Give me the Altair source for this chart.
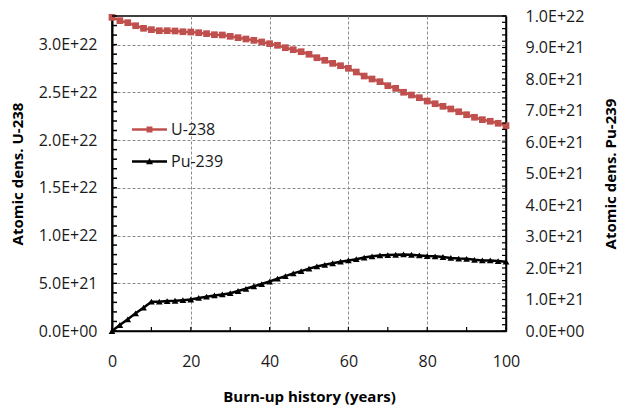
import altair as alt
import pandas as pd

# ---- data ----
years = list(range(0, 101, 2))
u238_e22 = [3.286, 3.251, 3.230, 3.198, 3.171, 3.157, 3.146, 3.146, 3.143, 3.135,
            3.132, 3.125, 3.115, 3.104, 3.101, 3.087, 3.073, 3.059, 3.045, 3.028,
            3.010, 2.993, 2.968, 2.947, 2.926, 2.899, 2.863, 2.836, 2.804, 2.779,
            2.752, 2.713, 2.671, 2.640, 2.612, 2.570, 2.542, 2.501, 2.472, 2.444,
            2.409, 2.381, 2.354, 2.326, 2.297, 2.266, 2.239, 2.214, 2.197, 2.176,
            2.151]
pu239_e21 = [0.00, 0.19, 0.37, 0.56, 0.74, 0.93, 0.93, 0.95, 0.96, 0.98,
             1.00, 1.05, 1.09, 1.13, 1.16, 1.20, 1.27, 1.34, 1.42, 1.49,
             1.57, 1.66, 1.74, 1.83, 1.90, 1.98, 2.05, 2.10, 2.15, 2.20,
             2.24, 2.28, 2.33, 2.37, 2.40, 2.41, 2.42, 2.43, 2.42, 2.40,
             2.38, 2.37, 2.35, 2.32, 2.30, 2.29, 2.26, 2.24, 2.24, 2.22,
             2.20]
series_names = ["U-238", "Pu-239"]
series_colors = ["#C0504D", "#000000"]

left_major = [i * 5e21 for i in range(7)]
left_minor = [i * 1e21 for i in range(34)]
right_major = [i * 1e21 for i in range(11)]
right_minor = [i * 2e20 for i in range(51)]
x_major = [0, 20, 40, 60, 80, 100]
x_minor = list(range(0, 101, 10))

df = pd.DataFrame({"year": years,
                   "u": [v * 1e22 for v in u238_e22],
                   "pu": [v * 1e21 for v in pu239_e21]})

W, H = 394, 315
FONT = "Open Sans"
LABEL_COLOR = "#1a1a1a"
LSIZE = 16
TSIZE = 15

x_scale = alt.Scale(domain=[0, 100], nice=False, zero=False)
left_scale = alt.Scale(domain=[0, 3.3e22], nice=False)
right_scale = alt.Scale(domain=[0, 1e22], nice=False)

label_expr = "datum.value == 0 ? '0.0E+00' : replace(format(datum.value, '.1e'), 'e', 'E')"

x_axis = alt.Axis(values=x_major, title="Burn-up history (years)", grid=True,
                  gridDash=[3, 2], gridColor="#8a8a8a", gridWidth=1,
                  ticks=False, tickSize=0, labelPadding=30, labelBaseline="middle",
                  labelFlush=False, labelOverlap=False,
                  labelFont=FONT, labelFontSize=LSIZE, labelColor=LABEL_COLOR,
                  titleFont=FONT, titleFontSize=TSIZE, titleFontWeight="bold",
                  titleColor="#000000", titleY=65, titleBaseline="middle",
                  domainColor="#000000", domainWidth=1.5)

left_axis = alt.Axis(values=left_major, labelExpr=label_expr, title="Atomic dens. U-238",
                     orient="left", grid=True, gridDash=[3, 2], gridColor="#8a8a8a",
                     gridWidth=1, ticks=False, tickSize=0, labelPadding=15,
                     labelFlush=False, labelOverlap=False,
                     labelFont=FONT, labelFontSize=LSIZE, labelColor=LABEL_COLOR,
                     titleFont=FONT, titleFontSize=TSIZE, titleFontWeight="bold",
                     titleColor="#000000", titleX=-95, titleY=H / 2, titleAngle=270,
                     titleBaseline="middle", domainColor="#000000", domainWidth=2)

right_axis = alt.Axis(values=right_major, labelExpr=label_expr, title="Atomic dens. Pu-239",
                      orient="right", grid=False, ticks=False, tickSize=0, labelPadding=19,
                      labelFlush=False, labelOverlap=False,
                      labelFont=FONT, labelFontSize=LSIZE, labelColor=LABEL_COLOR,
                      titleFont=FONT, titleFontSize=TSIZE, titleFontWeight="bold",
                      titleColor="#000000", titleX=104, titleY=H / 2, titleAngle=270,
                      titleBaseline="middle", domainColor="#000000", domainWidth=1.5)

base = alt.Chart(df)

u_layer = base.mark_line(
    color=series_colors[0], strokeWidth=2.5,
    point=alt.OverlayMarkDef(shape="square", size=45, filled=True,
                             color=series_colors[0], opacity=1)
).encode(
    x=alt.X("year:Q", scale=x_scale, axis=x_axis),
    y=alt.Y("u:Q", scale=left_scale, axis=left_axis),
)

pu_layer = base.mark_line(
    color=series_colors[1], strokeWidth=2.5,
    point=alt.OverlayMarkDef(shape="triangle-up", size=45, filled=True,
                             color=series_colors[1], opacity=1)
).encode(
    x=alt.X("year:Q", scale=x_scale, axis=x_axis),
    y=alt.Y("pu:Q", scale=right_scale, axis=right_axis),
)

# inside tick marks
left_ticks = alt.Chart(pd.DataFrame({"v": left_minor})).mark_rule(
    color="#000000", strokeWidth=1.5
).encode(
    y=alt.Y("v:Q", scale=left_scale, axis=None),
    x=alt.value(0), x2=alt.value(5),
)
right_ticks = alt.Chart(pd.DataFrame({"v": right_minor})).mark_rule(
    color="#000000", strokeWidth=1.2
).encode(
    y=alt.Y("v:Q", scale=right_scale, axis=None),
    x=alt.value(W - 4), x2=alt.value(W),
)
x_ticks = alt.Chart(pd.DataFrame({"year": x_minor})).mark_rule(
    color="#000000", strokeWidth=1.2
).encode(
    x=alt.X("year:Q", scale=x_scale, axis=x_axis),
    y=alt.value(H - 4), y2=alt.value(H),
)

path_u = "M-1,-0.07H1V0.07H-1Z M-0.17,-0.17H0.17V0.17H-0.17Z"
path_pu = "M-1,-0.07H1V0.07H-1Z M0,-0.2L0.2,0.15H-0.2Z"

legend_layer = alt.Chart(pd.DataFrame({"series": series_names})).mark_point(
    filled=True, opacity=0
).encode(
    x=alt.value(0), y=alt.value(0),
    color=alt.Color("series:N",
                    scale=alt.Scale(domain=series_names, range=series_colors),
                    legend=alt.Legend(orient="none", legendX=20, legendY=96,
                                      title=None, padding=0,
                                      symbolSize=1225, symbolStrokeWidth=0,
                                      symbolOpacity=1, labelFont=FONT,
                                      labelFontSize=LSIZE, labelColor=LABEL_COLOR,
                                      labelOffset=4, rowPadding=6)),
    shape=alt.Shape("series:N",
                    scale=alt.Scale(domain=series_names, range=[path_u, path_pu]),
                    legend=None),
)

chart = alt.layer(
    u_layer, pu_layer, left_ticks, right_ticks, x_ticks, legend_layer
).resolve_scale(
    y="independent"
).properties(
    width=W, height=H,
    autosize=alt.AutoSizeParams(type="none"),
    padding={"left": 112, "top": 16, "right": 112, "bottom": 77},
    background="#ffffff",
).configure_view(
    stroke="#000000", strokeWidth=1.5
)

chart.save("out.html", embed_options={"renderer": "svg", "actions": False})
